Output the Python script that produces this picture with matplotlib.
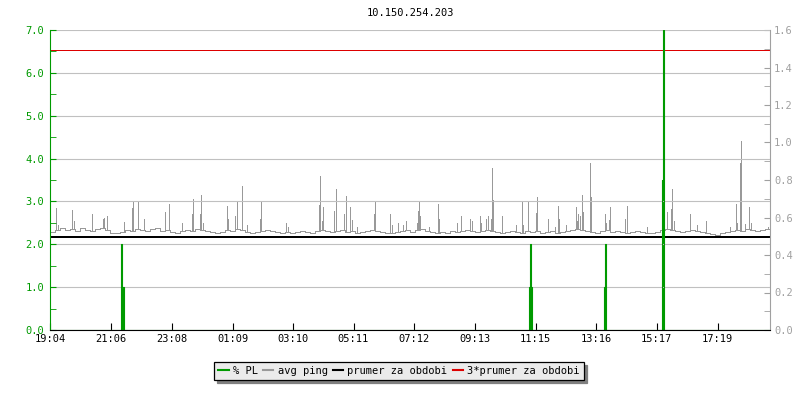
import numpy as np
import matplotlib
matplotlib.use('Agg')
import matplotlib.pyplot as plt
from matplotlib.lines import Line2D
from matplotlib.ticker import MultipleLocator, FormatStrFormatter

plt.rcParams['font.family'] = ['DejaVu Sans Mono', 'DejaVu Sans']
plt.rcParams['font.size'] = 7.5

TITLE = '10.150.254.203'
TICK_LABELS = ['19:04', '21:06', '23:08', '01:09', '03:10', '05:11',
               '07:12', '09:13', '11:15', '13:16', '15:17', '17:19']
PERIOD = 1440  # minutes shown

# avg ping baseline [ms], one value per 10 minutes
ping_base = [
    0.525, 0.535, 0.545, 0.535, 0.540, 0.530, 0.545, 0.535, 0.530, 0.540, 0.545, 0.535,
    0.520, 0.515, 0.525, 0.535, 0.530, 0.540, 0.535, 0.530, 0.540, 0.545, 0.530, 0.535,
    0.525, 0.520, 0.530, 0.535, 0.530, 0.540, 0.535, 0.530, 0.525, 0.520, 0.525, 0.535,
    0.530, 0.540, 0.535, 0.525, 0.520, 0.525, 0.530, 0.535, 0.530, 0.525, 0.520, 0.525,
    0.520, 0.525, 0.530, 0.525, 0.520, 0.530, 0.535, 0.530, 0.525, 0.530, 0.535, 0.525,
    0.530, 0.520, 0.525, 0.530, 0.535, 0.530, 0.525, 0.520, 0.515, 0.525, 0.530, 0.535,
    0.525, 0.535, 0.540, 0.530, 0.525, 0.520, 0.525, 0.520, 0.530, 0.525, 0.530, 0.535,
    0.530, 0.525, 0.530, 0.535, 0.530, 0.525, 0.520, 0.525, 0.530, 0.525, 0.520, 0.530,
    0.525, 0.530, 0.520, 0.525, 0.530, 0.520, 0.525, 0.530, 0.535, 0.540, 0.535, 0.530,
    0.525, 0.520, 0.530, 0.535, 0.525, 0.530, 0.525, 0.520, 0.525, 0.530, 0.525, 0.520,
    0.520, 0.525, 0.535, 0.540, 0.535, 0.530, 0.525, 0.530, 0.535, 0.530, 0.525, 0.515,
    0.510, 0.505, 0.515, 0.525, 0.530, 0.535, 0.530, 0.540, 0.535, 0.530, 0.535, 0.540,
]

# avg ping spikes: minutes from start, value [ms]
spike_t = [11, 15, 43, 47, 83, 105, 107, 113, 148, 163, 165, 176, 187, 229, 237,
           263, 284, 286, 299, 301, 305, 353, 355, 369, 373, 384, 393, 419, 421, 471,
           476, 537, 539, 543, 545, 568, 571, 588, 591, 600, 603, 613, 647, 649, 680,
           683, 696, 706, 711, 733, 735, 737, 740, 757, 775, 777, 813, 821, 839, 843,
           859, 861, 872, 876, 881, 883, 885, 904, 931, 943, 946, 955, 971, 973, 995,
           1009, 1015, 1018, 1031, 1051, 1054, 1056, 1059, 1063, 1065, 1079, 1081, 1109,
           1111, 1117, 1119, 1150, 1153, 1193, 1233, 1241, 1243, 1248, 1279, 1293, 1311,
           1359, 1371, 1373, 1379, 1381, 1389, 1398, 1401, 1435]
spike_v = [0.651, 0.560, 0.640, 0.583, 0.617, 0.594, 0.600, 0.608, 0.578, 0.651, 0.690,
           0.690, 0.594, 0.629, 0.674,
           0.571, 0.617, 0.700, 0.617, 0.720, 0.571, 0.663, 0.594, 0.606, 0.686, 0.770,
           0.560, 0.594, 0.690, 0.571,
           0.549, 0.667, 0.823, 0.583, 0.654, 0.635, 0.754, 0.617, 0.713, 0.654, 0.587,
           0.549, 0.617, 0.690, 0.617,
           0.560, 0.571, 0.560, 0.583, 0.571, 0.633, 0.686, 0.606, 0.549, 0.674, 0.594,
           0.571, 0.608, 0.594, 0.583,
           0.606, 0.571, 0.594, 0.606, 0.594, 0.862, 0.693, 0.608, 0.560, 0.681, 0.560,
           0.681, 0.622, 0.709, 0.594,
           0.549, 0.663, 0.594, 0.560, 0.654, 0.583, 0.617, 0.606, 0.720, 0.629, 0.891,
           0.709, 0.617,
           0.571, 0.587, 0.654, 0.594, 0.663, 0.549, 0.629, 0.647, 0.754, 0.583, 0.617,
           0.560, 0.583,
           0.549, 0.674, 0.571, 0.891, 1.010, 0.565, 0.654, 0.571, 0.549]

MEAN_PING = 0.498

# packet loss [%], step samples (minutes from start)
pl_t = [0, 142, 144, 147, 958, 960, 962, 964, 1108, 1110, 1112, 1224, 1226, 1228, 1440]
pl_v = [0, 2.0, 1.0, 0, 1.0, 2.0, 1.0, 0, 1.0, 2.0, 0, 3.5, 7.0, 0, 0]

GREEN = '#009a00'
GREY = '#999999'
AXGREY = '#a0a0a0'
PX = 0.72  # one pixel in points at 100 dpi


def label_to_minutes(lbl, start):
    h, m = map(int, lbl.split(':'))
    sh, sm = map(int, start.split(':'))
    return ((h * 60 + m) - (sh * 60 + sm)) % PERIOD


fig = plt.figure(figsize=(8, 4), dpi=100)
ax = fig.add_axes([50 / 800, 70 / 400, 720 / 800, 300 / 400])
ax2 = ax.twinx()
ax.set_zorder(2)
ax2.set_zorder(1)
ax.patch.set_visible(False)

# ping on the right axis
base_t = list(np.arange(len(ping_base)) * 10) + [PERIOD]
ax2.step(base_t, ping_base + [ping_base[-1]], where='post', color=GREY, lw=PX,
         antialiased=False)
spike_base = [ping_base[t // 10] for t in spike_t]
ax2.vlines(spike_t, spike_base, spike_v, color=GREY, lw=PX, antialiased=False)
ax2.axhline(MEAN_PING, color='black', lw=2 * PX, antialiased=False)
ax2.axhline(3 * MEAN_PING, color='#dd0000', lw=PX, antialiased=False)
ax2.set_ylim(0, 1.6)
ax2.yaxis.set_major_locator(MultipleLocator(0.2))
ax2.yaxis.set_minor_locator(MultipleLocator(0.1))
ax2.yaxis.set_major_formatter(FormatStrFormatter('%.1f'))
ax2.tick_params(axis='y', which='both', direction='in', length=4, color=AXGREY,
                labelcolor=AXGREY, pad=3)
for s in ['left', 'top', 'bottom']:
    ax2.spines[s].set_visible(False)
ax2.spines['right'].set_color(AXGREY)

# packet loss on the left axis
ax.fill_between(pl_t, pl_v, step='post', color=GREEN, lw=0)
ax.step(pl_t, pl_v, where='post', color=GREEN, lw=0.8)
ax.set_ylim(0, 7)
ax.set_xlim(0, PERIOD)
ax.yaxis.set_major_locator(MultipleLocator(1.0))
ax.yaxis.set_minor_locator(MultipleLocator(0.5))
ax.yaxis.set_major_formatter(FormatStrFormatter('%.1f'))
ax.yaxis.grid(True, which='major', color='#c0c0c0', lw=0.8)
ax.tick_params(axis='y', which='both', direction='in', length=4, color=GREEN,
               labelcolor=GREEN, pad=4)
ax.set_xticks([label_to_minutes(l, TICK_LABELS[0]) for l in TICK_LABELS])
ax.set_xticklabels(TICK_LABELS)
ax.tick_params(axis='x', direction='in', length=5, color='black', pad=3)
ax.spines['left'].set_color(GREEN)
ax.spines['top'].set_visible(False)
ax.spines['right'].set_visible(False)

fig.text(410 / 800, 1 - 13 / 400, TITLE, ha='center', va='center')

handles = [Line2D([], [], color=GREEN, lw=1.5),
           Line2D([], [], color=GREY, lw=1.5),
           Line2D([], [], color='black', lw=1.5),
           Line2D([], [], color='#dd0000', lw=1.5)]
labels = ['% PL', 'avg ping', 'prumer za obdobi', '3*prumer za obdobi']
leg = fig.legend(handles, labels, loc='center', bbox_to_anchor=(399 / 800, 29 / 400),
                 ncol=4, handlelength=1.0, handletextpad=0.4, columnspacing=0.5,
                 borderpad=0.4, fancybox=False, framealpha=1, facecolor='#ebebeb',
                 edgecolor='black', shadow={'color': '#808080', 'alpha': 1})
leg.get_frame().set_linewidth(0.9)

fig.savefig('out.png', dpi=100)
